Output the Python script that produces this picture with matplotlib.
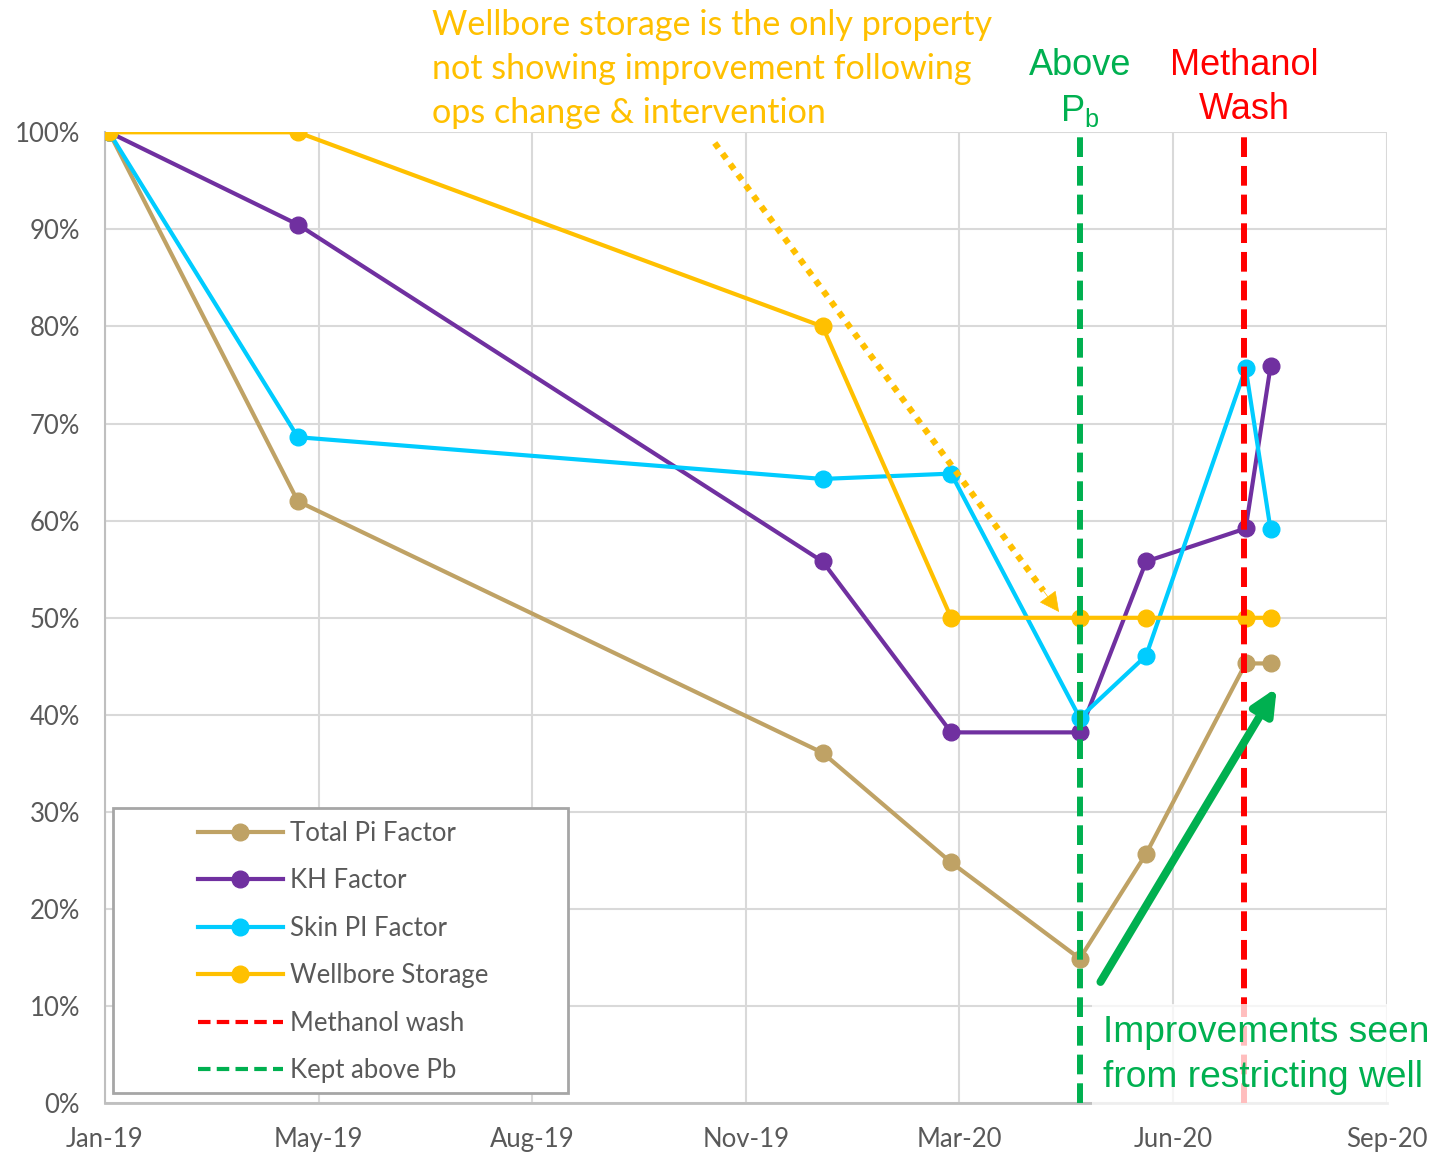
import matplotlib
matplotlib.use('Agg')
import pandas as pd
from matplotlib import pyplot as plt
from matplotlib.lines import Line2D
from matplotlib.patches import Rectangle
from matplotlib.ticker import FuncFormatter

plt.rcParams['font.family'] = ['Lato', 'DejaVu Sans']
plt.rcParams['mathtext.fontset'] = 'custom'
plt.rcParams['mathtext.rm'] = 'Liberation Sans'

# well test dates and factors (% of the first test)
test_dates = pd.to_datetime(['2019-01-20', '2019-04-21', '2019-12-30', '2020-03-01',
                             '2020-05-02', '2020-06-03', '2020-07-21', '2020-08-02'])
total_pi = [100, 62.0, 36.1, 24.8, 14.9, 25.7, 45.3, 45.3]
kh_factor = [100, 90.5, 55.8, 38.2, 38.2, 55.8, 59.2, 75.9]
skin_pi = [100, 68.6, 64.3, 64.85, 39.7, 46.1, 75.7, 59.1]
wellbore_storage = [100, 100, 80, 50, 50, 50, 50, 50]

series_names = ['Total Pi Factor', 'KH Factor', 'Skin PI Factor', 'Wellbore Storage']
series_values = [total_pi, kh_factor, skin_pi, wellbore_storage]
series_colors = ['#BFA265', '#7030A0', '#00CCFF', '#FFC000']

# events
above_pb_date = pd.Timestamp('2020-05-02')
methanol_wash_date = pd.Timestamp('2020-07-20')
event_names = ['Methanol wash', 'Kept above Pb']
event_colors = ['#FF0000', '#00B050']

# date axis: 7 ticks, 103 days apart
axis_start = pd.Timestamp('2019-01-18')
x_ticks = pd.date_range(axis_start, periods=7, freq='103D')
y_ticks = list(range(0, 101, 10))

GREEN = '#00B050'
GOLD = '#FFC000'
GREY_TXT = '#595959'

fig = plt.figure(figsize=(14.32, 11.55), dpi=100)
ax = fig.add_axes([105 / 1432, 51.7 / 1155, 1281.7 / 1432, 971 / 1155])

for name, vals, col in zip(series_names, series_values, series_colors):
    ax.plot(test_dates, vals, color=col, lw=3, marker='o', ms=12,
            solid_joinstyle='round', zorder=3, label=name)

dash = (0, (3.3, 1.5))
ax.axvline(above_pb_date, color=GREEN, lw=4.3, ls=dash, zorder=4)
ax.axvline(methanol_wash_date, color='#FF0000', lw=4.3, ls=dash, zorder=4)

ax.set_xlim(x_ticks[0], x_ticks[-1])
ax.set_ylim(0, 100)
ax.set_xticks(x_ticks)
ax.set_xticklabels([d.strftime('%b-%y') for d in x_ticks])
ax.set_yticks(y_ticks)
ax.yaxis.set_major_formatter(FuncFormatter(lambda v, p: f'{v:.0f}%'))
ax.tick_params(length=0, labelsize=18.5, labelcolor=GREY_TXT)
ax.tick_params(axis='y', pad=18)
ax.tick_params(axis='x', pad=17)
ax.grid(True, color='#D9D9D9', lw=1.5)
ax.set_axisbelow(True)
for s in ['top', 'right']:
    ax.spines[s].set_visible(False)
ax.spines['left'].set_color('#BFBFBF')
ax.spines['left'].set_linewidth(1.5)
ax.spines['bottom'].set_color('#BFBFBF')
ax.spines['bottom'].set_linewidth(2)

# legend inside a boxed panel
box = Rectangle((0.0062, 0.0106), 0.355, 0.2935, transform=ax.transAxes,
                fc='white', ec='#A6A6A6', lw=2, zorder=5)
ax.add_patch(box)
handles = [Line2D([], [], color=c, lw=3, marker='o', ms=12) for c in series_colors]
handles += [Line2D([], [], color=c, lw=3, ls=(0, (3, 1.5))) for c in event_colors]
leg = ax.legend(handles, series_names + event_names, loc='center left',
                bbox_to_anchor=(0.0726, 0.156), frameon=False, borderpad=0,
                borderaxespad=0, handlelength=3.3, handletextpad=0.28,
                labelspacing=0.875, fontsize=18.5, labelcolor=GREY_TXT)
leg.set_zorder(6)

# dotted pointer to the flat wellbore storage line, solid head at the end
p_start = (pd.Timestamp('2019-11-08'), 98.9)
p_tip = (pd.Timestamp('2020-04-22'), 50.6)
f = 0.955
p_base = (p_start[0] + (p_tip[0] - p_start[0]) * f, p_start[1] + (p_tip[1] - p_start[1]) * f)
ax.plot([p_start[0], p_base[0]], [p_start[1], p_base[1]], color=GOLD, lw=4.5,
        ls=(0, (1, 1.1)), dash_capstyle='butt', zorder=7)
ax.annotate('', xy=p_tip, xytext=p_base,
            arrowprops=dict(arrowstyle='-|>,head_length=0.65,head_width=0.33',
                            color=GOLD, lw=0.5, mutation_scale=20,
                            shrinkA=0, shrinkB=0),
            zorder=7)
# green improvement arrow
ax.annotate('', xy=(pd.Timestamp('2020-08-05'), 42.8),
            xytext=(pd.Timestamp('2020-05-12'), 12.5),
            arrowprops=dict(arrowstyle='-|>,head_length=0.75,head_width=0.35',
                            color=GREEN, lw=5.8, mutation_scale=20,
                            shrinkA=0, shrinkB=0),
            zorder=7)

fig.text(432 / 1432, 1 - 9 / 1155,
         'Wellbore storage is the only property\nnot showing improvement following\nops change & intervention',
         color=GOLD, fontsize=24.6, va='top', ha='left', linespacing=1.47)
fig.text(1080 / 1432, 1 - 48 / 1155, 'Above\n$\\mathrm{P}_\\mathrm{b}$', ha='center', va='top',
         color=GREEN, fontsize=26, family='Liberation Sans', multialignment='center',
         linespacing=1.35)
fig.text(1244 / 1432, 1 - 48 / 1155, 'Methanol\nWash', ha='center', va='top',
         color='#FF0000', fontsize=26, family='Liberation Sans', multialignment='center',
         linespacing=1.35)
fig.text(1103 / 1432, 1 - 1015 / 1155, 'Improvements seen\nfrom restricting well',
         ha='left', va='top', color=GREEN, fontsize=26.7, family='Liberation Sans',
         linespacing=1.37,
         bbox=dict(boxstyle='square,pad=0.3', fc='white', ec='none', alpha=0.75))

fig.savefig('out.png', dpi=100)
